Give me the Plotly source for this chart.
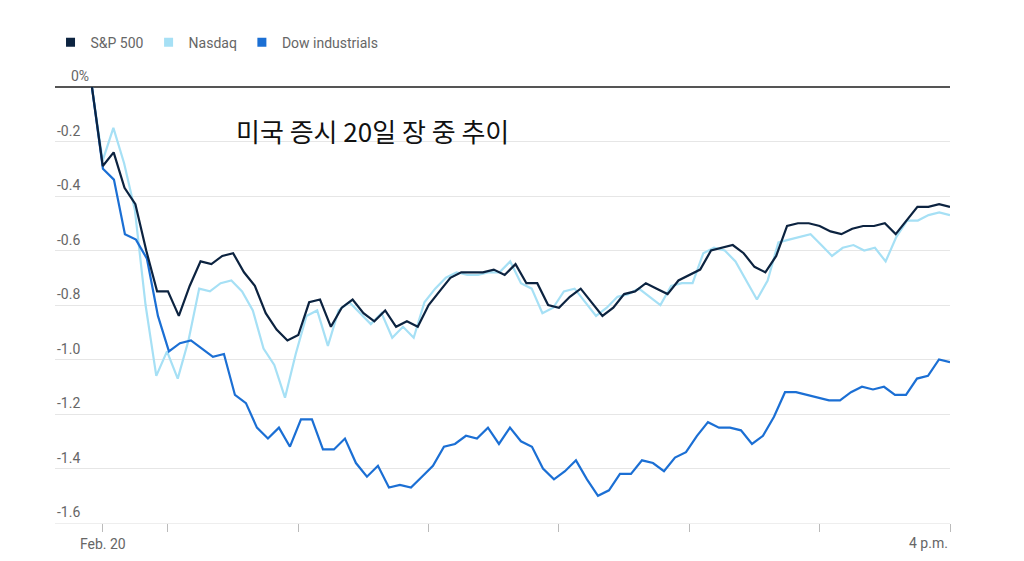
import numpy as np
import plotly.graph_objects as go

# % change, sampled about every 5 minutes from the previous close to 4 p.m.
sp500 = [0, -0.29, -0.24, -0.37, -0.43, -0.6, -0.75, -0.75, -0.84, -0.73, -0.64, -0.65, -0.62, -0.61,
         -0.68, -0.73, -0.83, -0.89, -0.93, -0.91, -0.79, -0.78, -0.88, -0.81, -0.78, -0.83, -0.86,
         -0.82, -0.88, -0.86, -0.88, -0.8, -0.75, -0.7, -0.68, -0.68, -0.68, -0.67, -0.69, -0.65,
         -0.72, -0.72, -0.8, -0.81, -0.77, -0.74, -0.79, -0.84, -0.81, -0.76, -0.75, -0.72, -0.74,
         -0.76, -0.71, -0.69, -0.67, -0.6, -0.59, -0.58, -0.61, -0.66, -0.68, -0.62, -0.51, -0.5,
         -0.5, -0.51, -0.53, -0.54, -0.52, -0.51, -0.51, -0.5, -0.54, -0.49, -0.44, -0.44, -0.43, -0.44]
nasdaq = [0, -0.27, -0.15, -0.28, -0.45, -0.8, -1.06, -0.97, -1.07, -0.93, -0.74, -0.75, -0.72, -0.71,
          -0.75, -0.82, -0.96, -1.02, -1.14, -0.98, -0.84, -0.82, -0.95, -0.82, -0.79, -0.83, -0.87,
          -0.83, -0.92, -0.88, -0.92, -0.79, -0.74, -0.7, -0.68, -0.69, -0.69, -0.68, -0.68, -0.64,
          -0.72, -0.74, -0.83, -0.81, -0.75, -0.74, -0.79, -0.84, -0.81, -0.77, -0.76, -0.74, -0.77,
          -0.8, -0.73, -0.72, -0.72, -0.61, -0.59, -0.6, -0.64, -0.71, -0.78, -0.71, -0.57, -0.56,
          -0.55, -0.54, -0.58, -0.62, -0.59, -0.58, -0.6, -0.59, -0.64, -0.55, -0.49, -0.49, -0.47,
          -0.46, -0.47]
dow = [0, -0.3, -0.34, -0.54, -0.56, -0.63, -0.84, -0.97, -0.94, -0.93, -0.96, -0.99, -0.98, -1.13,
       -1.16, -1.25, -1.29, -1.25, -1.32, -1.22, -1.22, -1.33, -1.33, -1.29, -1.38, -1.43, -1.39,
       -1.47, -1.46, -1.47, -1.43, -1.39, -1.32, -1.31, -1.28, -1.29, -1.25, -1.31, -1.25, -1.3,
       -1.32, -1.4, -1.44, -1.41, -1.37, -1.44, -1.5, -1.48, -1.42, -1.42, -1.37, -1.38, -1.41,
       -1.36, -1.34, -1.28, -1.23, -1.25, -1.25, -1.26, -1.31, -1.28, -1.21, -1.12, -1.12, -1.13,
       -1.14, -1.15, -1.15, -1.12, -1.1, -1.11, -1.1, -1.13, -1.13, -1.07, -1.06, -1.0, -1.01]

names = ["S&P 500", "Nasdaq", "Dow industrials"]
colors = ["#0c2340", "#a6e0f5", "#1b6fd4"]
y_ticks = [0, -0.2, -0.4, -0.6, -0.8, -1.0, -1.2, -1.4, -1.6]
y_labels = ["0%", "-0.2", "-0.4", "-0.6", "-0.8", "-1.0", "-1.2", "-1.4", "-1.6"]
x_ticks = [0, 30, 90, 150, 210, 270, 330, 390]  # minutes after 9:30
x_labels = ["Feb. 20", "", "", "", "", "", "", ""]

fig = go.Figure()
for name, vals, col in [(names[1], nasdaq, colors[1]), (names[2], dow, colors[2]), (names[0], sp500, colors[0])]:
    x = np.linspace(-5, 390, len(vals))
    fig.add_trace(go.Scatter(x=x, y=vals, mode="lines", line=dict(color=col, width=2.2),
                             showlegend=False, name=name, cliponaxis=False))
for name, col in zip(names, colors):
    fig.add_trace(go.Scatter(x=[None], y=[None], mode="markers", name=name,
                             marker=dict(symbol="square", size=9, color=col)))

for v, lab in zip(y_ticks, y_labels):
    fig.add_annotation(x=0, xref="paper", y=v, yref="y", text=lab, showarrow=False,
                       xanchor="left", yanchor="bottom",
                       xshift=(14 if lab == "0%" else 0), yshift=1,
                       font=dict(size=14, color="#666"))

fig.add_annotation(x=1, xref="paper", y=0, yref="paper", text="4 p.m.", showarrow=False,
                   xanchor="right", yanchor="top", yshift=-10, font=dict(size=14, color="#666"))

fig.add_annotation(x=0.2, xref="paper", y=-0.16, yref="y", text="미국 증시 20일 장 중 추이",
                   showarrow=False, xanchor="left", font=dict(size=26, color="#111",
                   family="Noto Sans CJK KR"))

fig.update_layout(
    width=1024, height=561, plot_bgcolor="white", paper_bgcolor="white",
    margin=dict(l=47, r=82, t=79, b=46, autoexpand=False),
    font=dict(family="Roboto", color="#666"),
    legend=dict(orientation="h", x=-0.005, y=1.065, xanchor="left", yanchor="bottom",
                font=dict(size=14, color="#666"), itemwidth=30),
    xaxis=dict(range=[-22, 390], tickvals=x_ticks, ticktext=x_labels, ticks="outside",
               ticklen=8, tickcolor="#bbb", showgrid=False, zeroline=False,
               showline=True, linecolor="#eee", tickfont=dict(size=14, color="#666")),
    yaxis=dict(range=[-1.6, 0.0], tickvals=y_ticks, showticklabels=False, gridcolor="#e6e6e6",
               zeroline=True, zerolinecolor="#555", zerolinewidth=1.5),
)
fig.write_html("out.html")
